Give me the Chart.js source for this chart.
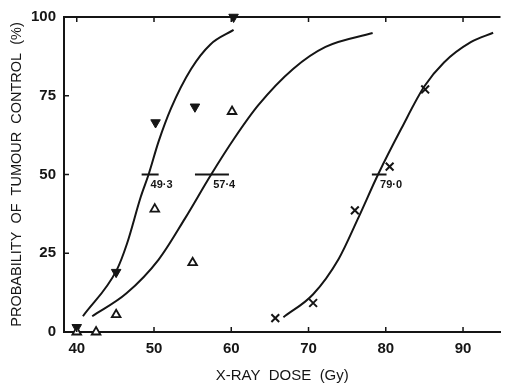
<!DOCTYPE html>
<html>
<head>
<meta charset="utf-8">
<script src="https://cdn.jsdelivr.net/npm/chart.js@4/dist/chart.umd.min.js"></script>
<style>
  html, body { margin: 0; padding: 0; background: #fff; }
  #wrap { width: 508px; height: 385px; }
</style>
</head>
<body>
<div id="wrap"><canvas id="grafico" width="508" height="385"></canvas></div>
<script>
// Ticks
const doseTicks = [40, 50, 60, 70, 80, 90];
const controlTicks = [0, 25, 50, 75, 100];

// Filled (inverted) triangles
const filledDose = [40, 45.1, 50.2, 55.3, 60.3];
const filledControl = [1.5, 19, 66.5, 71.5, 100];

// Open triangles
const openDose = [40, 42.5, 45.1, 50.1, 55, 60.1];
const openControl = [0, 0, 5.5, 39, 22, 70];

// Crosses
const crossDose = [65.7, 70.6, 76.0, 80.5, 85.1];
const crossControl = [4.4, 9.2, 38.6, 52.5, 77];

// Fitted curves
const curve1Dose = [40.8, 45.2, 46.5, 48.3, 49.3, 50.6, 52.2, 54.8, 57.3, 60.3];
const curve1Control = [5, 19.8, 28, 43, 50, 60.5, 71, 83.5, 91.3, 95.9];
const curve2Dose = [42, 46.4, 50.6, 54, 57.4, 60.4, 63.5, 68, 72.2, 78.3];
const curve2Control = [5, 12.2, 23, 36, 50, 61.5, 72, 83.5, 90.5, 94.9];
const curve3Dose = [66.75, 70.6, 73.9, 76.4, 79, 82, 85, 87.5, 91, 93.9];
const curve3Control = [4.7, 12, 23.2, 36, 50, 64.5, 78, 85.5, 92, 95];

// TCD50 markers
const medianDose = [49.3, 57.4, 79.0];
const medianLabels = ['49·3', '57·4', '79·0'];
const medianFrom = [48.4, 55.3, 78.2];
const medianTo = [50.6, 59.7, 80.1];

const ink = '#151515';
const toPts = (xs, ys) => xs.map((x, i) => ({ x: x, y: ys[i] }));

const curveSet = (xs, ys) => ({
    type: 'line',
    data: toPts(xs, ys),
    borderColor: ink,
    borderWidth: 2,
    pointRadius: 0,
    fill: false,
    cubicInterpolationMode: 'monotone',
    clip: false
});

const datasets = [
    curveSet(curve1Dose, curve1Control),
    curveSet(curve2Dose, curve2Control),
    curveSet(curve3Dose, curve3Control)
];

medianDose.forEach((d, i) => {
    datasets.push({
        type: 'line',
        data: [{ x: medianFrom[i], y: 50 }, { x: medianTo[i], y: 50 }],
        borderColor: ink,
        borderWidth: 2,
        pointRadius: 0
    });
});

datasets.push({
    type: 'scatter',
    data: toPts(openDose, openControl),
    pointStyle: 'triangle',
    pointRadius: 5,
    pointBackgroundColor: '#fff',
    pointBorderColor: ink,
    pointBorderWidth: 1.8,
    clip: false
});
datasets.push({
    type: 'scatter',
    data: toPts(filledDose, filledControl),
    pointStyle: 'triangle',
    pointRotation: 180,
    pointRadius: 5.5,
    pointBackgroundColor: ink,
    pointBorderColor: ink,
    pointBorderWidth: 1,
    clip: false
});
datasets.push({
    type: 'scatter',
    data: toPts(crossDose, crossControl),
    pointStyle: 'crossRot',
    pointRadius: 5.5,
    pointBorderColor: ink,
    pointBorderWidth: 2,
    clip: false
});

// inward tick marks, top frame line and TCD50 labels
const extras = {
    id: 'extras',
    afterDraw(chart) {
        const { ctx, chartArea } = chart;
        const xs = chart.scales.x, ys = chart.scales.y;
        ctx.save();
        ctx.strokeStyle = ink;
        ctx.lineWidth = 2;
        ctx.beginPath();
        ctx.moveTo(chartArea.left, chartArea.top);
        ctx.lineTo(chartArea.right, chartArea.top);
        ctx.stroke();
        ctx.lineWidth = 1.5;
        doseTicks.forEach(v => {
            const px = xs.getPixelForValue(v);
            ctx.beginPath();
            ctx.moveTo(px, chartArea.bottom);
            ctx.lineTo(px, chartArea.bottom - 5);
            ctx.moveTo(px, chartArea.top);
            ctx.lineTo(px, chartArea.top + 5);
            ctx.stroke();
        });
        controlTicks.forEach(v => {
            const py = ys.getPixelForValue(v);
            ctx.beginPath();
            ctx.moveTo(chartArea.left, py);
            ctx.lineTo(chartArea.left + 5, py);
            ctx.stroke();
        });
        ctx.fillStyle = ink;
        ctx.font = 'bold 11px "Liberation Sans"';
        ctx.textBaseline = 'top';
        ctx.textAlign = 'left';
        medianDose.forEach((d, i) => {
            ctx.fillText(medianLabels[i], xs.getPixelForValue(d) + 2, ys.getPixelForValue(50) + 5);
        });
        ctx.restore();
    }
};

const ctx = document.getElementById('grafico').getContext('2d');
new Chart(ctx, {
    data: { datasets: datasets },
    plugins: [extras],
    options: {
        responsive: false,
        animation: false,
        devicePixelRatio: 1,
        layout: { padding: { top: 16, left: 0, right: 0, bottom: 0 } },
        plugins: { legend: { display: false }, tooltip: { enabled: false } },
        scales: {
            x: {
                type: 'linear',
                min: 38.35,
                max: 94.85,
                afterBuildTicks: s => { s.ticks = doseTicks.map(v => ({ value: v })); },
                afterFit: s => { s.height = 53; },
                grid: { display: false, drawTicks: false },
                border: { display: true, color: ink, width: 2 },
                ticks: {
                    color: ink,
                    padding: 8,
                    maxRotation: 0,
                    font: { family: 'Liberation Sans', size: 15, weight: 'bold' }
                },
                title: {
                    display: true,
                    text: 'X-RAY  DOSE  (Gy)',
                    color: ink,
                    padding: { top: 0, bottom: 0 },
                    font: { family: 'Liberation Sans', size: 15 }
                }
            },
            y: {
                type: 'linear',
                min: 0,
                max: 100,
                afterBuildTicks: s => { s.ticks = controlTicks.map(v => ({ value: v })); },
                afterFit: s => { s.width = 64; },
                grid: { display: false, drawTicks: false },
                border: { display: true, color: ink, width: 2 },
                ticks: {
                    color: ink,
                    padding: 8,
                    font: { family: 'Liberation Sans', size: 15, weight: 'bold' }
                },
                title: {
                    display: true,
                    text: 'PROBABILITY  OF  TUMOUR  CONTROL  (%)',
                    color: ink,
                    padding: { top: 8, bottom: 0 },
                    font: { family: 'Liberation Sans', size: 14.5 }
                }
            }
        }
    }
});
</script>
</body>
</html>
